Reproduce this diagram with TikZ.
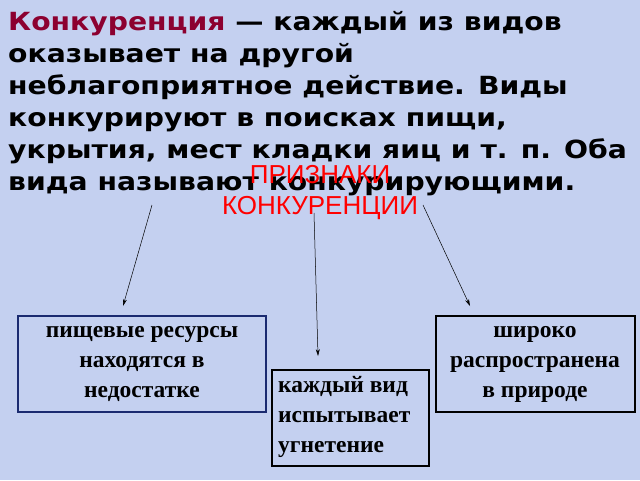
\documentclass[tikz,border=0pt]{standalone}
\usepackage{fontspec}
\setmainfont{Liberation Serif}
\newfontfamily\titlefont[FakeStretch=1.13]{DejaVu Sans}
\newfontfamily\redfont{Liberation Sans}
\usetikzlibrary{arrows.meta}
\definecolor{bgc}{HTML}{C4D0F0}
\definecolor{darkred}{HTML}{8C0030}
\definecolor{boxblue}{HTML}{1A2A70}
\tikzset{
  tline/.style={anchor=base west,inner sep=0pt,font=\titlefont\bfseries\fontsize{25}{30}\selectfont},
  rline/.style={anchor=base,inner sep=0pt,text=red,font=\redfont\fontsize{26}{30}\selectfont},
  btext/.style={inner sep=0pt,font=\bfseries\fontsize{23.5}{30}\selectfont},
  box/.style={draw=black,line width=1.6pt},
  arr/.style={-{Stealth[length=7pt,width=4pt]},line width=0.5pt}
}
\begin{document}
\begin{tikzpicture}[x=1pt,y=-1pt]
\fill[bgc] (0,0) rectangle (640,480);
\useasboundingbox (0,0) rectangle (640,480);
\node[tline] (t1) at (8,30) {\textcolor{darkred}{Конкуренция} — каждый из видов};
\node[tline] (t2) at (8,62) {оказывает на другой};
\node[tline] (t3) at (8,94) {неблагоприятное действие. Виды};
\node[tline] (t4) at (8,126) {конкурируют в поисках пищи,};
\node[tline] (t5) at (8,158) {укрытия, мест кладки яиц и т. п. Оба};
\node[tline] (t6) at (8,190) {вида называют конкурирующими.};
\node[rline] (r1) at (320,183) {ПРИЗНАКИ};
\node[rline] (r2) at (320,214) {КОНКУРЕНЦИИ};
\draw[box,draw=boxblue] (18,316) rectangle (266,412);
\draw[box] (272,370) rectangle (429,466);
\draw[box] (436,316) rectangle (635,412);
\node[btext,align=center] (b1) at (142,364) {пищевые ресурсы\\находятся в\\недостатке};
\node[btext,align=left,anchor=north west] (b2) at (278,376) {каждый вид\\испытывает\\угнетение};
\node[btext,align=center] (b3) at (535,364) {широко\\распространена\\в природе};
\coordinate (s1) at (152,205); \coordinate (e1) at (123,306);
\coordinate (s2) at (314,213); \coordinate (e2) at (318,356);
\coordinate (s3) at (423,205); \coordinate (e3) at (470,306);
\draw[arr] (s1) -- (e1);
\draw[arr] (s2) -- (e2);
\draw[arr] (s3) -- (e3);
\end{tikzpicture}
\end{document}
